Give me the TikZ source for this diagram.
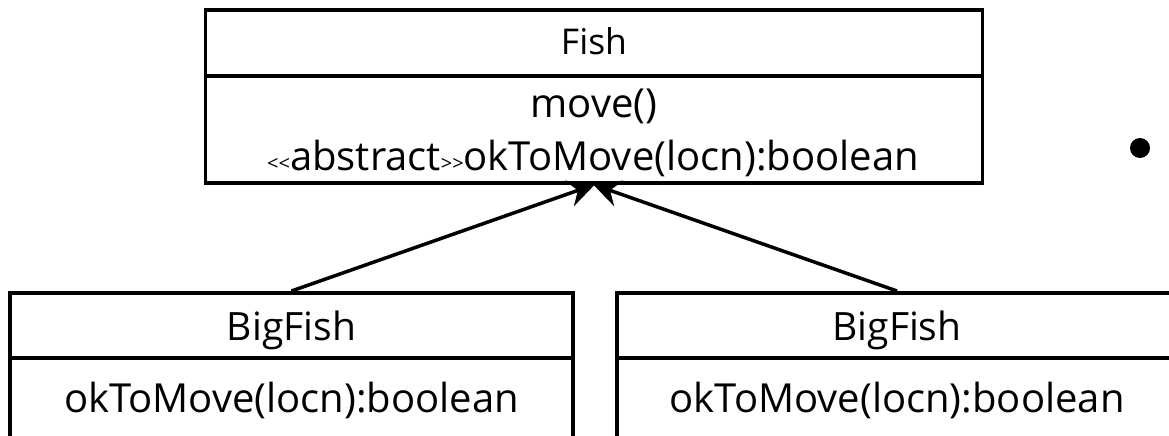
\documentclass[tikz,border=0pt]{standalone}
\usepackage{fontspec}
\setmainfont{Open Sans}
\usetikzlibrary{arrows.meta}
\newcommand{\guil}[1]{{\fontsize{20}{22}\selectfont#1\kern0pt#1}}
\tikzset{
  umlbox/.style={draw, line width=3.5pt, rectangle, inner sep=0pt},
  divider/.style={line width=4pt},
  label/.style={anchor=base, inner sep=0pt, font=\fontsize{40}{46}\selectfont},
  title/.style={label, font=\fontsize{35.5}{42}\selectfont},
  subtitle/.style={label, font=\fontsize{39}{46}\selectfont},
  inherit/.style={line width=3.5pt, shorten >=-1pt, -{Stealth[length=27pt, width=27pt, inset=9pt]}},
}
\begin{document}
\begin{tikzpicture}[x=1pt, y=1pt]
\useasboundingbox (0,0) rectangle (1169,-436);
\fill[white] (0,0) rectangle (1169,-436);
\clip (0,0) rectangle (1169,-436);

% superclass
\node[umlbox, minimum width=777pt, minimum height=173pt] (fish) at (594,-96.5) {};
\draw[divider] (fish.west |- 0,-75.5) -- (fish.east |- 0,-75.5);
\node[title] (fishname) at (594,-55) {Fish};
\node[label] (fishmove) at (594,-117) {move()};
\node[label] (fishok) at (593,-170) {\guil{<}abstract\guil{>}okToMove(locn):boolean};

% subclasses (they run on below the lower edge)
\node[umlbox, minimum width=563pt, minimum height=200pt, anchor=north] (left) at (291.5,-291) {};
\draw[divider] (left.west |- 0,-358) -- (left.east |- 0,-358);
\node[subtitle] (leftname) at (291.5,-340) {BigFish};
\node[label] (leftok) at (291.5,-412.5) {okToMove(locn):boolean};

\node[umlbox, minimum width=563pt, minimum height=200pt, anchor=north] (right) at (898.5,-291) {};
\draw[divider] (right.west |- 0,-357.5) -- (right.east |- 0,-357.5);
\node[subtitle] (rightname) at (897,-340) {BigFish};
\node[label] (rightok) at (897,-412.5) {okToMove(locn):boolean};

% generalisation arrows
\coordinate (leftend) at (291.5,-291);
\coordinate (rightend) at (897,-291);
\draw[inherit] (leftend) -- (fish.south);
\draw[inherit] (rightend) -- (fish.south);

% bullet
\fill (1140,-148) circle (10pt);
\end{tikzpicture}
\end{document}
